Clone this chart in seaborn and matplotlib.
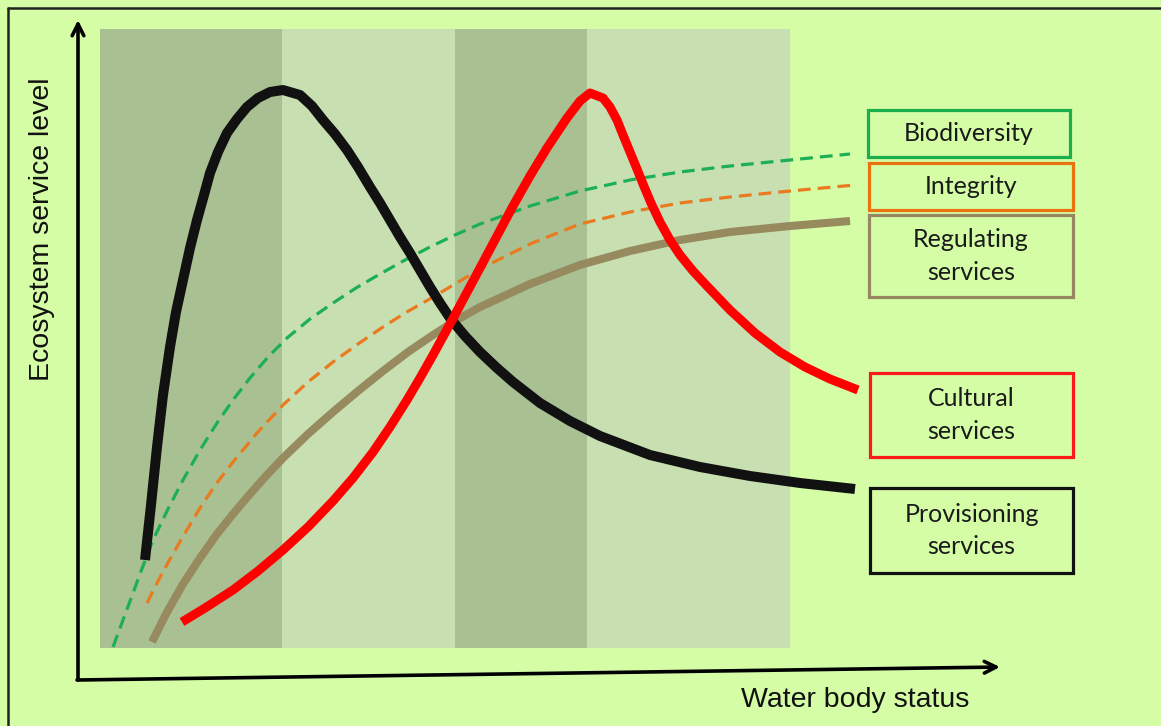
import matplotlib
matplotlib.use("Agg")
import matplotlib.pyplot as plt
import seaborn as sns
from matplotlib.patches import Rectangle

# water body status (x) and ecosystem service level (y), arbitrary units
prov_x = [1.45, 1.51, 1.57, 1.63, 1.70, 1.76, 1.83, 1.90, 1.97, 2.04,
          2.10, 2.18, 2.27, 2.37, 2.47, 2.58, 2.70, 2.83, 3.00, 3.12,
          3.23, 3.35, 3.47, 3.58, 3.70, 3.80, 3.90, 4.00, 4.10, 4.20,
          4.30, 4.40, 4.50, 4.65, 4.80, 4.97, 5.13, 5.40, 5.70, 6.00,
          6.50, 7.00, 7.50, 8.00, 8.55]
prov_y = [1.66, 2.21, 2.79, 3.31, 3.79, 4.14, 4.46, 4.78, 5.06, 5.31,
          5.53, 5.74, 5.93, 6.07, 6.19, 6.28, 6.34, 6.36, 6.31, 6.20,
          6.06, 5.92, 5.76, 5.59, 5.39, 5.23, 5.06, 4.89, 4.73, 4.56,
          4.39, 4.23, 4.08, 3.90, 3.74, 3.58, 3.44, 3.23, 3.05, 2.90,
          2.71, 2.59, 2.50, 2.43, 2.37]

cult_x = [1.82, 2.05, 2.33, 2.58, 2.83, 3.08, 3.33, 3.53, 3.73, 3.90,
          4.07, 4.20, 4.33, 4.50, 4.65, 4.80, 4.97, 5.13, 5.30, 5.47,
          5.57, 5.67, 5.80, 5.90, 6.03, 6.10, 6.17, 6.23, 6.30, 6.37,
          6.43, 6.51, 6.60, 6.70, 6.80, 6.93, 7.07, 7.30, 7.55, 7.80,
          8.05, 8.30, 8.58]
cult_y = [1.04, 1.18, 1.36, 1.55, 1.76, 1.99, 2.25, 2.48, 2.74, 2.99,
          3.26, 3.48, 3.71, 4.02, 4.30, 4.58, 4.90, 5.20, 5.50, 5.78,
          5.93, 6.08, 6.25, 6.33, 6.28, 6.19, 6.06, 5.91, 5.74, 5.57,
          5.42, 5.23, 5.04, 4.86, 4.71, 4.55, 4.40, 4.16, 3.93, 3.74,
          3.59, 3.47, 3.36]

bio_x = [1.13, 1.23, 1.33, 1.43, 1.53, 1.68, 1.83, 2.00, 2.17, 2.33,
         2.50, 2.68, 2.87, 3.10, 3.33, 3.56, 3.80, 4.05, 4.30, 4.55,
         4.80, 5.30, 5.80, 6.30, 6.80, 7.30, 7.90, 8.50]
bio_y = [0.79, 1.06, 1.33, 1.60, 1.86, 2.17, 2.46, 2.76, 3.03, 3.26,
         3.48, 3.69, 3.88, 4.07, 4.23, 4.38, 4.52, 4.66, 4.79, 4.91,
         5.02, 5.20, 5.35, 5.46, 5.54, 5.60, 5.66, 5.72]

integ_x = [1.47, 1.58, 1.70, 1.85, 2.00, 2.16, 2.33, 2.57, 2.83, 3.08,
           3.33, 3.58, 3.83, 4.05, 4.28, 4.55, 4.80, 5.30, 5.80, 6.30,
           6.80, 7.30, 7.90, 8.55]
integ_y = [1.23, 1.45, 1.67, 1.93, 2.18, 2.42, 2.64, 2.93, 3.21, 3.44,
           3.64, 3.82, 3.99, 4.13, 4.26, 4.42, 4.57, 4.82, 5.02, 5.14,
           5.23, 5.29, 5.35, 5.41]

reg_x = [1.52, 1.66, 1.83, 2.00, 2.17, 2.33, 2.50, 2.66, 2.83, 3.08,
         3.33, 3.58, 3.83, 4.08, 4.33, 4.55, 4.80, 5.30, 5.80, 6.30,
         6.80, 7.30, 7.90, 8.50]
reg_y = [0.84, 1.12, 1.42, 1.68, 1.92, 2.12, 2.32, 2.50, 2.68, 2.92,
         3.14, 3.35, 3.55, 3.74, 3.91, 4.05, 4.19, 4.42, 4.61, 4.75,
         4.86, 4.94, 5.00, 5.05]

# status bands (edges along x)
band_edges = [1.00, 2.82, 4.55, 5.87, 7.90]
band_colors = ["#a9c192", "#c8dfb1", "#a9c192", "#c8dfb1"]
band_bottom = 0.78
band_top = 6.97

# legend boxes: label, edge colour, extent
box_labels = ["Biodiversity", "Integrity", "Regulating\nservices",
              "Cultural\nservices", "Provisioning\nservices"]
box_colors = ["#1aaf4b", "#e8730f", "#968760", "#ff1a1a", "#111111"]
box_x0 = [8.68, 8.69, 8.69, 8.70, 8.70]
box_x1 = [10.70, 10.73, 10.73, 10.73, 10.73]
box_y0 = [5.69, 5.16, 4.29, 2.69, 1.53]
box_y1 = [6.16, 5.63, 5.11, 3.53, 2.38]

sns.set_theme(style="white")
bg = "#d4fda6"

fig = plt.figure(figsize=(11.61, 7.26), dpi=100, facecolor=bg)
ax = fig.add_axes([0, 0, 1, 1], facecolor=bg)
ax.set_xlim(0, 11.61)
ax.set_ylim(0, 7.26)
ax.axis("off")

# shaded bands
for i in range(len(band_colors)):
    ax.bar(band_edges[i], band_top - band_bottom, width=band_edges[i + 1] - band_edges[i],
           bottom=band_bottom, align="edge", color=band_colors[i], linewidth=0, zorder=1)

# curves
sns.lineplot(x=bio_x, y=bio_y, ax=ax, sort=False, color="#1daf55", lw=2.3,
             dashes=(4, 2.2), zorder=3)
sns.lineplot(x=integ_x, y=integ_y, ax=ax, sort=False, color="#ea7a1e", lw=2.3,
             dashes=(4, 2.2), zorder=3)
sns.lineplot(x=reg_x, y=reg_y, ax=ax, sort=False, color="#978a5f", lw=5.8,
             solid_capstyle="butt", solid_joinstyle="round", zorder=4)
sns.lineplot(x=prov_x, y=prov_y, ax=ax, sort=False, color="#111111", lw=7.2,
             solid_capstyle="butt", solid_joinstyle="round", zorder=5)
sns.lineplot(x=cult_x, y=cult_y, ax=ax, sort=False, color="#ff0000", lw=6.5,
             solid_capstyle="butt", solid_joinstyle="round", zorder=6)

# axes arrows
arrow = dict(arrowstyle="->,head_length=0.7,head_width=0.35", lw=2.6, color="black",
             shrinkA=0, shrinkB=0)
ax.annotate("", xy=(0.78, 7.06), xytext=(0.78, 0.46), arrowprops=arrow, zorder=7)
ax.annotate("", xy=(10.00, 0.59), xytext=(0.77, 0.46), arrowprops=arrow, zorder=7)

# frame at top and left
ax.plot([0.08, 11.61], [7.18, 7.18], color="#222222", lw=1.8, zorder=8)
ax.plot([0.08, 0.08], [0, 7.18], color="#222222", lw=1.8, zorder=8)

ax.text(0.42, 4.97, "Ecosystem service level", rotation=90, ha="center", va="center",
        fontsize=20.5, family="Liberation Sans", color="#111111")
ax.text(8.55, 0.26, "Water body status", ha="center", va="center",
        fontsize=20.5, family="Liberation Sans", color="#111111")

# legend boxes
for lab, col, x0, x1, y0, y1 in zip(box_labels, box_colors, box_x0, box_x1, box_y0, box_y1):
    ax.add_patch(Rectangle((x0, y0), x1 - x0, y1 - y0, facecolor="none", edgecolor=col,
                           lw=2.3, zorder=6))
    ax.text((x0 + x1) / 2, (y0 + y1) / 2, lab, ha="center", va="center", fontsize=18,
            family="Lato", color="#1a1a1a", linespacing=1.5, zorder=7)

fig.savefig("out.png", dpi=100, facecolor=bg)
